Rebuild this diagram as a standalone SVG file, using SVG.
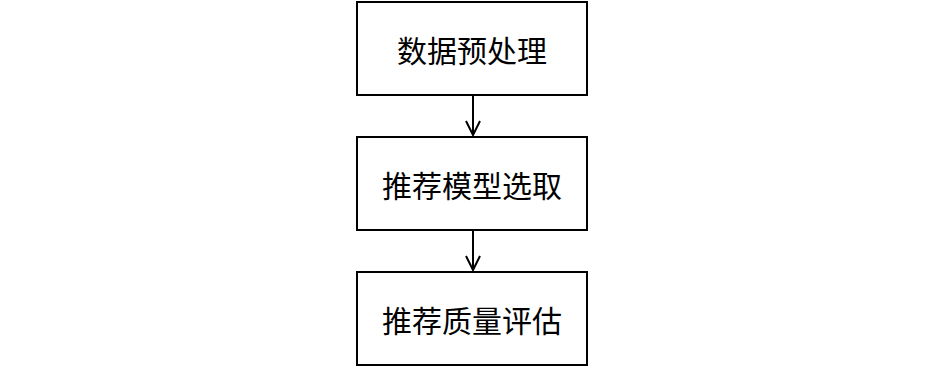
<svg xmlns="http://www.w3.org/2000/svg" width="945" height="368" viewBox="0 0 945 368">
<style>
.box{fill:#fff;stroke:#000;stroke-width:2}
.lbl{font-family:"Noto Sans CJK SC","Noto Sans",sans-serif;font-size:30px;fill:#000;text-anchor:middle;dominant-baseline:central}
.con{stroke:#000;stroke-width:2;fill:none}
</style>
<rect width="945" height="368" fill="#fff"/>
<g id="node1"><rect class="box" x="357" y="2" width="230" height="93"/><text class="lbl" x="472" y="49">数据预处理</text></g>
<g id="node2"><rect class="box" x="357" y="137" width="230" height="93"/><text class="lbl" x="472" y="184">推荐模型选取</text></g>
<g id="node3"><rect class="box" x="357" y="272" width="230" height="93"/><text class="lbl" x="472" y="319">推荐质量评估</text></g>
<g id="connectors">
<path class="con" d="M473 95V135M466 121L473 135L480 121"/>
<path class="con" d="M473 230V270M466 256L473 270L480 256"/>
</g>
</svg>
